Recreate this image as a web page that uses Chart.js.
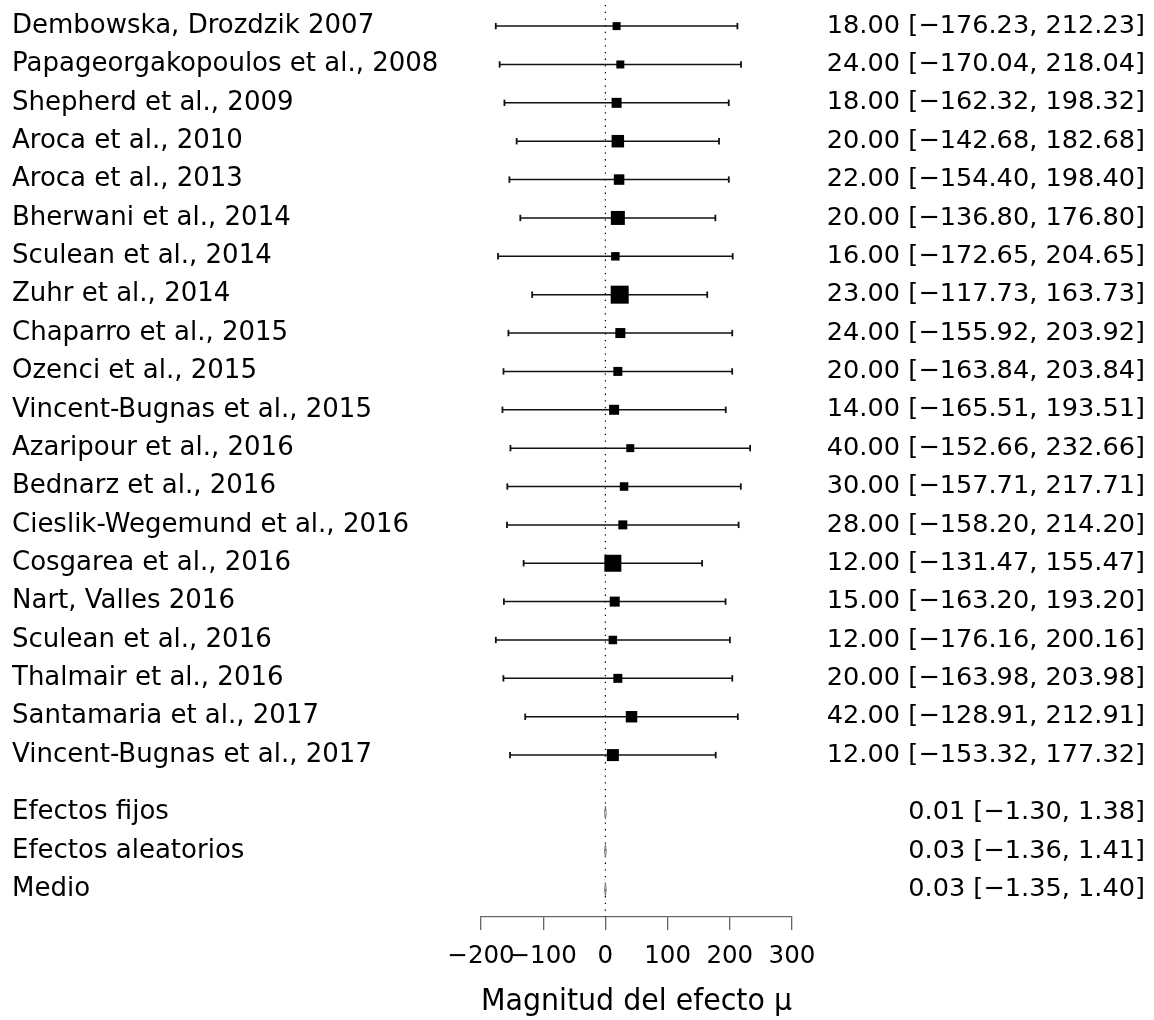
<!DOCTYPE html>
<html>
<head>
<meta charset="utf-8">
<script src="https://cdn.jsdelivr.net/npm/chart.js@4/dist/chart.umd.min.js"></script>
<style>
html,body{margin:0;padding:0;background:#fff;}
#wrap{width:1154px;height:1020px;}
</style>
</head>
<body>
<div id="wrap"><canvas id="c" width="1154" height="1020"></canvas></div>
<script>
const studies = ["Dembowska, Drozdzik 2007","Papageorgakopoulos et al., 2008","Shepherd et al., 2009","Aroca et al., 2010","Aroca et al., 2013","Bherwani et al., 2014","Sculean et al., 2014","Zuhr et al., 2014","Chaparro et al., 2015","Ozenci et al., 2015","Vincent-Bugnas et al., 2015","Azaripour et al., 2016","Bednarz et al., 2016","Cieslik-Wegemund et al., 2016","Cosgarea et al., 2016","Nart, Valles 2016","Sculean et al., 2016","Thalmair et al., 2016","Santamaria et al., 2017","Vincent-Bugnas et al., 2017"];
const estimates = [18,24,18,20,22,20,16,23,24,20,14,40,30,28,12,15,12,20,42,12];
const lower = [-176.23,-170.04,-162.32,-142.68,-154.40,-136.80,-172.65,-117.73,-155.92,-163.84,-165.51,-152.66,-157.71,-158.20,-131.47,-163.20,-176.16,-163.98,-128.91,-153.32];
const upper = [212.23,218.04,198.32,182.68,198.40,176.80,204.65,163.73,203.92,203.84,193.51,232.66,217.71,214.20,155.47,193.20,200.16,203.98,212.91,177.32];
const weights = [8,8,10,12.5,10.5,14,8.5,18,10,9,10,8,8.5,9,17,10,8.5,9,11.5,12];
const summaryNames = ["Efectos fijos","Efectos aleatorios","Medio"];
const summaryEst = [0.01,0.03,0.03];
const summaryLower = [-1.30,-1.36,-1.35];
const summaryUpper = [1.38,1.41,1.40];
const xTicks = [-200,-100,0,100,200,300];
const xTitle = "Magnitud del efecto \u03bc";

const fmt = v => (v < 0 ? "\u2212" : "") + Math.abs(v).toFixed(2);
const studyRows = studies.map((_, i) => i + 1);
const summaryRows = summaryNames.map((_, j) => studies.length + 1.5 + j);
const allRows = studyRows.concat(summaryRows);
const leftLabels = studies.concat(summaryNames);
const rightLabels = estimates.map((e,i)=>`${fmt(e)} [${fmt(lower[i])}, ${fmt(upper[i])}]`)
  .concat(summaryEst.map((e,j)=>`${fmt(e)} [${fmt(summaryLower[j])}, ${fmt(summaryUpper[j])}]`));
const labelFor = {};
allRows.forEach((r,i)=>{labelFor[r] = i;});
const yMin = 0.45, yMax = 24.22;

const datasets = [];
datasets.push({
  type:'scatter', order:0,
  data: estimates.map((e,i)=>({x:e,y:studyRows[i]})),
  pointStyle:'rect',
  pointRadius: weights.map(w=>w/Math.SQRT2),
  backgroundColor:'#000', borderColor:'#000', borderWidth:0
});
studies.forEach((_,i)=>{
  datasets.push({
    type:'line', order:2,
    data:[{x:lower[i],y:studyRows[i]},{x:upper[i],y:studyRows[i]}],
    borderColor:'#111', borderWidth:1.5, pointRadius:0, fill:false
  });
});
datasets.push({
  type:'scatter', order:1,
  data: studies.flatMap((_,i)=>[{x:lower[i],y:studyRows[i]},{x:upper[i],y:studyRows[i]}]),
  pointStyle:'line', rotation:90, pointRadius:3.2,
  borderColor:'#111', borderWidth:1.8
});
summaryNames.forEach((_,j)=>{
  const y = summaryRows[j], h = 0.17;
  datasets.push({
    type:'line', order:1,
    data:[{x:summaryLower[j],y:y},{x:summaryEst[j],y:y-h},{x:summaryUpper[j],y:y},{x:summaryEst[j],y:y+h},{x:summaryLower[j],y:y}],
    borderColor:'#777', borderWidth:1, backgroundColor:'#777', fill:true, pointRadius:0, tension:0
  });
});
datasets.push({
  type:'line', order:5,
  data:[{x:0,y:yMin},{x:0,y:yMax}],
  borderColor:'#000', borderWidth:1.2, borderDash:[1.3,5.4], pointRadius:0, fill:false
});

const FONT = "'DejaVu Sans', sans-serif";
const yTicksSetter = scale => { scale.ticks = allRows.map(v=>({value:v})); };
const noPadY = w => s => { s.width = w; s.paddingTop = 0; s.paddingBottom = 0; };

new Chart(document.getElementById('c'), {
  data:{datasets},
  options:{
    responsive:false, animation:false, maintainAspectRatio:false,
    layout:{autoPadding:false, padding:{left:12,right:9,top:5,bottom:0}},
    plugins:{legend:{display:false}, tooltip:{enabled:false}},
    scales:{
      x:{
        type:'linear', position:'bottom', min:-200, max:300,
        afterBuildTicks: s => { s.ticks = xTicks.map(v=>({value:v})); },
        afterFit: s => { s.height = 103; s.paddingLeft = 0; s.paddingRight = 0; },
        grid:{drawOnChartArea:false, drawTicks:true, tickLength:13, color:'#666', lineWidth:1.3},
        border:{display:true, color:'#666', width:1.3},
        ticks:{color:'#000', font:{family:FONT, size:24.5}, padding:12, maxRotation:0, autoSkip:false,
          callback: v => (v<0?"\u2212":"") + Math.abs(v)},
        title:{display:true, text:xTitle, color:'#000', font:{family:FONT, size:30}, padding:{top:0,bottom:0}}
      },
      y:{
        type:'linear', position:'left', reverse:true, min:yMin, max:yMax,
        afterBuildTicks: yTicksSetter,
        afterFit: noPadY(469),
        grid:{display:false}, border:{display:false},
        ticks:{color:'#000', font:{family:FONT, size:26}, crossAlign:'far', autoSkip:false, padding:0,
          callback: v => leftLabels[labelFor[v]]}
      },
      y2:{
        type:'linear', position:'right', reverse:true, min:yMin, max:yMax,
        afterBuildTicks: yTicksSetter,
        afterFit: noPadY(353),
        grid:{display:false}, border:{display:false},
        ticks:{color:'#000', font:{family:FONT, size:25.6}, crossAlign:'far', autoSkip:false, padding:0,
          callback: v => rightLabels[labelFor[v]]}
      }
    }
  }
});
</script>
</body>
</html>
